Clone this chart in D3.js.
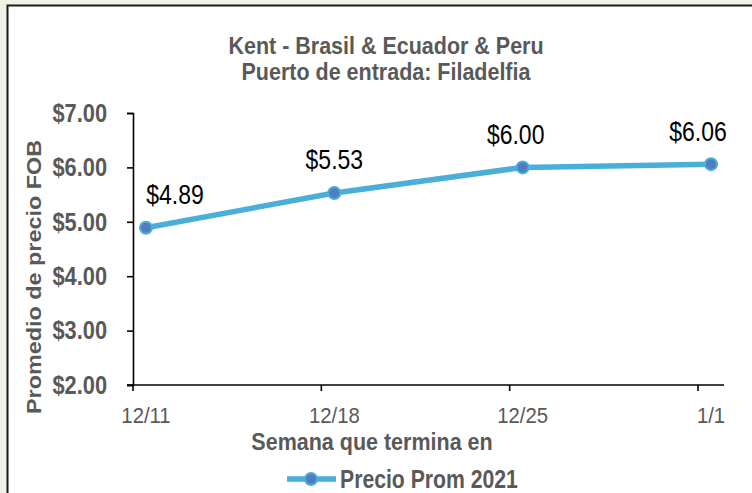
<!DOCTYPE html>
<html><head><meta charset="utf-8">
<script src="https://cdn.jsdelivr.net/npm/d3@7/dist/d3.min.js"></script>
<style>
body{margin:0;background:#f1f2e6;}
svg{display:block}
</style>
</head><body>
<svg id="chart" width="752" height="493"></svg>
<script>
// ---- data ----
const categories = ["12/11", "12/18", "12/25", "1/1"];
const values = [4.89, 5.53, 6.00, 6.06];
const yTicks = [2, 3, 4, 5, 6, 7];
const seriesName = "Precio Prom 2021";
const titleLines = ["Kent - Brasil & Ecuador & Peru", "Puerto de entrada: Filadelfia"];
const xTitle = "Semana que termina en";
const yTitle = "Promedio de precio FOB";

// ---- styles ----
const sans = "'Liberation Sans',Arial,sans-serif";
const gray = "#595959";
const lineColor = "#4aaedb";
const markerFill = "#4f7dbf";

const svg = d3.select("#chart");

// panel
svg.append("rect").attr("x", 7.5).attr("y", 5.5).attr("width", 760).attr("height", 500)
  .attr("fill", "#ffffff").attr("stroke", "#1a1a1a").attr("stroke-width", 2);

const x = d3.scalePoint().domain(categories).range([146, 711]);
const y = d3.scaleLinear().domain([2, 7]).range([385, 113]);
const tickShift = -13;

function stretched(sel, px, py, s) {
  return sel.attr("transform", `translate(${px},${py}) scale(1,${s})`);
}

// title
svg.append("g").selectAll("text").data(titleLines).join("text")
  .each(function (d, i) { stretched(d3.select(this), 386, 54 + i * 26, 1.08); })
  .attr("text-anchor", "middle")
  .attr("font-family", sans).attr("font-weight", "bold").attr("font-size", 21.5)
  .attr("fill", gray).text(d => d);

// y axis
const yAxis = svg.append("g").attr("transform", "translate(133,0)")
  .call(d3.axisLeft(y).tickValues(yTicks).tickSize(6).tickPadding(20)
    .tickFormat(d => "$" + d.toFixed(2)));
yAxis.select(".domain").attr("stroke", "#000").attr("stroke-width", 1.6);
yAxis.selectAll(".tick line").attr("stroke", "#000").attr("stroke-width", 1.6);
yAxis.selectAll(".tick text").attr("font-family", sans).attr("font-weight", "bold")
  .attr("font-size", 21.8).attr("fill", gray).attr("transform", "scale(1,1.2)");

// x axis
const xAxis = svg.append("g").attr("transform", "translate(0,385)");
xAxis.append("line").attr("x1", 127).attr("x2", 724).attr("y1", 0).attr("y2", 0)
  .attr("stroke", "#000").attr("stroke-width", 1.6);
xAxis.selectAll("line.tk").data(categories).join("line").attr("class", "tk")
  .attr("x1", d => x(d) + tickShift).attr("x2", d => x(d) + tickShift)
  .attr("y1", 0).attr("y2", 6).attr("stroke", "#000").attr("stroke-width", 1.6);
xAxis.selectAll("text.tl").data(categories).join("text").attr("class", "tl")
  .each(function (d) { stretched(d3.select(this), x(d), 38, 1.1); })
  .attr("text-anchor", "middle")
  .attr("font-family", sans).attr("font-size", 20.3).attr("fill", gray).text(d => d);

// axis titles
stretched(svg.append("text"), 372, 450, 1.1).attr("text-anchor", "middle")
  .attr("font-family", sans).attr("font-weight", "bold").attr("font-size", 21.5)
  .attr("fill", gray).text(xTitle);
svg.append("text").attr("transform", "translate(41,277) rotate(-90) scale(1.2,1)")
  .attr("text-anchor", "middle")
  .attr("font-family", sans).attr("font-weight", "bold").attr("font-size", 19.5)
  .attr("fill", gray).text(yTitle);

// line
const line = d3.line().x((d, i) => x(categories[i])).y(d => y(d));
svg.append("path").datum(values).attr("d", line).attr("fill", "none")
  .attr("stroke", lineColor).attr("stroke-width", 5.5).attr("stroke-linejoin", "round");
svg.append("g").selectAll("circle").data(values).join("circle")
  .attr("cx", (d, i) => x(categories[i])).attr("cy", d => y(d)).attr("r", 6)
  .attr("fill", markerFill).attr("stroke", lineColor).attr("stroke-width", 2);

// data labels (nudged as in the reference)
const labelNudge = [29, 0, -7, -13];
svg.append("g").selectAll("text").data(values).join("text")
  .each(function (d, i) {
    stretched(d3.select(this), x(categories[i]) + labelNudge[i], y(d) - 23.5, 1.2);
  })
  .attr("text-anchor", "middle")
  .attr("font-family", sans).attr("font-size", 23).attr("fill", "#000")
  .text(d => "$" + d.toFixed(2));

// legend
const lg = svg.append("g").attr("transform", "translate(0,479)");
lg.append("line").attr("x1", 287).attr("x2", 336).attr("y1", 0).attr("y2", 0)
  .attr("stroke", lineColor).attr("stroke-width", 5.5);
lg.append("circle").attr("cx", 311).attr("cy", 0).attr("r", 6)
  .attr("fill", markerFill).attr("stroke", lineColor).attr("stroke-width", 2);
stretched(lg.append("text"), 340, 9, 1.2).attr("font-family", sans)
  .attr("font-weight", "bold").attr("font-size", 21.2).attr("fill", gray).text(seriesName);
</script>
</body></html>
